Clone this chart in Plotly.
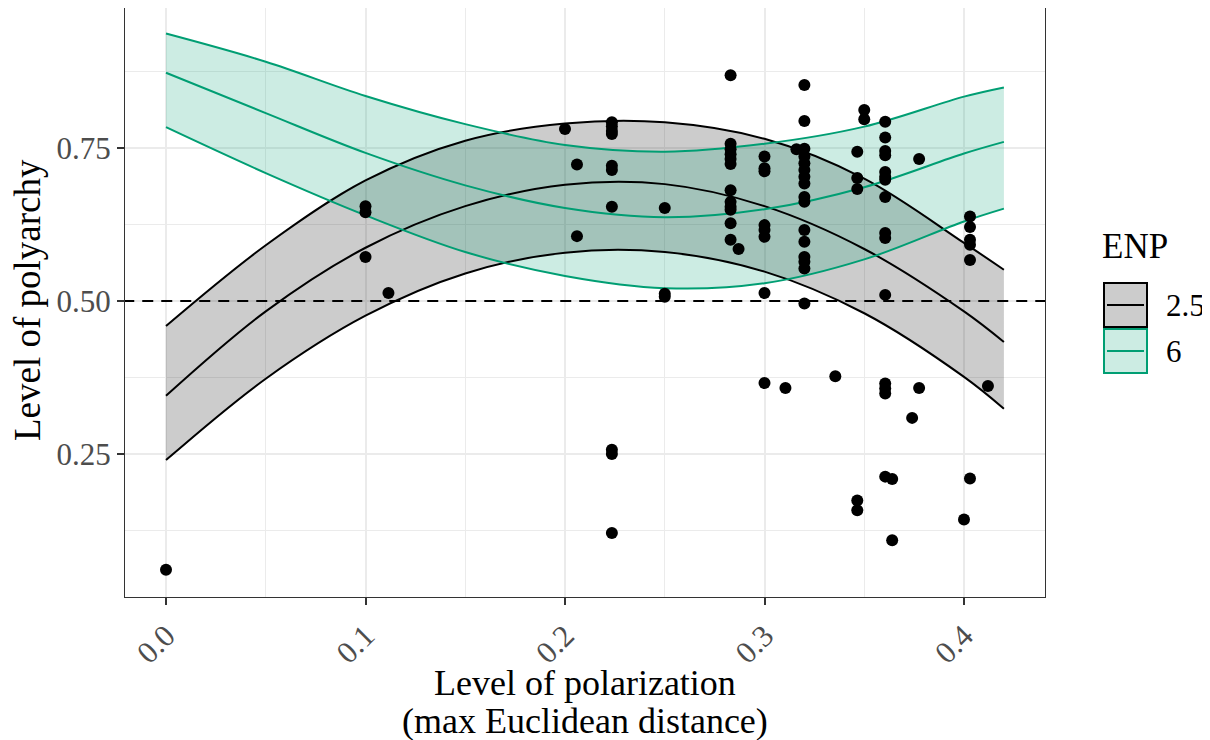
import plotly.graph_objects as go

# Fitted curves
x_curve = [0.0, 0.05, 0.1, 0.15, 0.2, 0.25, 0.3, 0.35, 0.4, 0.42]
enp25_fit = [0.345, 0.483, 0.587, 0.655, 0.690, 0.691, 0.655, 0.585, 0.483, 0.433]
enp25_upper = [0.459, 0.591, 0.697, 0.762, 0.790, 0.792, 0.765, 0.700, 0.595, 0.551]
enp25_lower = [0.240, 0.373, 0.476, 0.545, 0.579, 0.580, 0.548, 0.480, 0.376, 0.324]
enp6_fit = [0.873, 0.807, 0.742, 0.689, 0.652, 0.637, 0.650, 0.686, 0.741, 0.760]
enp6_upper = [0.937, 0.891, 0.835, 0.789, 0.755, 0.744, 0.757, 0.785, 0.834, 0.849]
enp6_lower = [0.784, 0.709, 0.640, 0.580, 0.541, 0.521, 0.529, 0.568, 0.630, 0.651]

# Observations
polarization = [
    0.0,
    0.1, 0.1, 0.1, 0.1115,
    0.2, 0.206, 0.206,
    0.2235, 0.2235, 0.2235, 0.2235, 0.2235, 0.2235, 0.2235, 0.2235, 0.2235, 0.2235,
    0.25, 0.25, 0.25,
    0.283, 0.283, 0.283, 0.283, 0.283, 0.283, 0.283, 0.283, 0.283, 0.283, 0.283, 0.283,
    0.287,
    0.3, 0.3, 0.3, 0.3, 0.3, 0.3, 0.3, 0.3,
    0.3105, 0.316,
    0.32, 0.32, 0.32, 0.32, 0.32, 0.32, 0.32, 0.32, 0.32, 0.32, 0.32, 0.32, 0.32, 0.32, 0.32, 0.32,
    0.3355,
    0.3465, 0.3465, 0.3465, 0.3465, 0.3465,
    0.35, 0.35,
    0.3605, 0.3605, 0.3605, 0.3605, 0.3605, 0.3605, 0.3605, 0.3605, 0.3605, 0.3605, 0.3605,
    0.3605, 0.3605, 0.3605, 0.3605,
    0.364, 0.364,
    0.374,
    0.3775, 0.3775,
    0.4,
    0.403, 0.403, 0.403, 0.403, 0.403, 0.403,
    0.412,
]
polyarchy = [
    0.061,
    0.655, 0.645, 0.572, 0.513,
    0.781, 0.723, 0.606,
    0.792, 0.785, 0.778, 0.773, 0.721, 0.714, 0.654, 0.257, 0.250, 0.121,
    0.652, 0.512, 0.507,
    0.869, 0.757, 0.748, 0.740, 0.732, 0.724, 0.681, 0.662, 0.654, 0.649, 0.627, 0.600,
    0.585,
    0.736, 0.717, 0.712, 0.624, 0.616, 0.605, 0.513, 0.366,
    0.358, 0.748,
    0.853, 0.794, 0.749, 0.736, 0.725, 0.714, 0.703, 0.692, 0.670, 0.662, 0.616, 0.597,
    0.572, 0.564, 0.553, 0.496,
    0.377,
    0.744, 0.701, 0.683, 0.174, 0.158,
    0.812, 0.797,
    0.793, 0.767, 0.745, 0.738, 0.711, 0.703, 0.698, 0.670, 0.611, 0.603, 0.510,
    0.365, 0.357, 0.349, 0.213,
    0.209, 0.109,
    0.309,
    0.732, 0.358,
    0.143,
    0.638, 0.621, 0.600, 0.592, 0.567, 0.210,
    0.361,
]

x_ticks = [0.0, 0.1, 0.2, 0.3, 0.4]
x_ticklabels = ["0.0", "0.1", "0.2", "0.3", "0.4"]
y_ticks = [0.25, 0.50, 0.75]
y_ticklabels = ["0.25", "0.50", "0.75"]
threshold = 0.5
legend_labels = ["2.5", "6"]
legend_title = "ENP"
x_title_lines = ["Level of polarization", "(max Euclidean distance)"]
y_title = "Level of polyarchy"

BLACK = "#000000"
GREEN = "#009E73"
GRAY_FILL = "rgba(0,0,0,0.2)"
GREEN_FILL = "rgba(0,158,115,0.2)"
FONT = "Liberation Serif"

fig = go.Figure()

# ribbons
for lo, hi, fillc in [(enp25_lower, enp25_upper, GRAY_FILL), (enp6_lower, enp6_upper, GREEN_FILL)]:
    fig.add_trace(go.Scatter(x=x_curve, y=lo, mode="lines", line=dict(width=0, shape="spline"),
                             showlegend=False, hoverinfo="skip"))
    fig.add_trace(go.Scatter(x=x_curve, y=hi, mode="lines", line=dict(width=0, shape="spline"),
                             fill="tonexty", fillcolor=fillc, showlegend=False, hoverinfo="skip"))

# lines
for series, col in [((enp25_lower, enp25_fit, enp25_upper), BLACK), ((enp6_lower, enp6_fit, enp6_upper), GREEN)]:
    for s in series:
        fig.add_trace(go.Scatter(x=x_curve, y=s, mode="lines",
                                 line=dict(color=col, width=2, shape="spline"),
                                 showlegend=False, hoverinfo="skip"))

# threshold
fig.add_trace(go.Scatter(x=[-0.05, 0.5], y=[threshold, threshold], mode="lines",
                         line=dict(color=BLACK, width=2, dash="11px,8px"),
                         showlegend=False, hoverinfo="skip"))

# points
fig.add_trace(go.Scatter(x=polarization, y=polyarchy, mode="markers",
                         marker=dict(color=BLACK, size=12), showlegend=False))

# the page body adds an offset of about 8px; layout is given in screen pixels
OFF = 8
W, H = 1210 - OFF, 740 - OFF
L, R, T, B = 125 - OFF, 1045 - OFF, 8 - OFF, 597 - OFF


def pxx(px):
    return (px - OFF - L) / float(R - L)


def pxy(py):
    return (B - (py - OFF)) / float(B - T)


shapes = []
annotations = []
legend_items = [(legend_labels[0], BLACK, "rgb(204,204,204)", 283, 327),
                (legend_labels[1], GREEN, "rgb(204,236,227)", 329, 373)]
for label, col, fillc, top, bot in legend_items:
    shapes.append(dict(type="rect", xref="paper", yref="paper",
                       x0=pxx(1104), x1=pxx(1147), y0=pxy(bot), y1=pxy(top),
                       fillcolor=fillc, line=dict(color=col, width=2)))
    mid = (top + bot) / 2
    shapes.append(dict(type="line", xref="paper", yref="paper",
                       x0=pxx(1107), x1=pxx(1144), y0=pxy(mid), y1=pxy(mid),
                       line=dict(color=col, width=2)))
    annotations.append(dict(text=label, xref="paper", yref="paper", x=pxx(1164), y=pxy(mid),
                            xanchor="left", yanchor="middle", showarrow=False,
                            font=dict(family=FONT, size=31, color="#000000")))
annotations.append(dict(text=legend_title, xref="paper", yref="paper", x=pxx(1100), y=pxy(246),
                        xanchor="left", yanchor="middle", showarrow=False,
                        font=dict(family=FONT, size=35, color="#000000")))
# axis titles
annotations.append(dict(text=x_title_lines[0], xref="paper", yref="paper", x=0.5, y=pxy(683),
                        xanchor="center", yanchor="middle", showarrow=False,
                        font=dict(family=FONT, size=36, color="#000000")))
annotations.append(dict(text=x_title_lines[1], xref="paper", yref="paper", x=0.5, y=pxy(721),
                        xanchor="center", yanchor="middle", showarrow=False,
                        font=dict(family=FONT, size=36, color="#000000")))
annotations.append(dict(text=y_title, xref="paper", yref="paper", x=pxx(27), y=pxy(300),
                        xanchor="center", yanchor="middle", showarrow=False, textangle=-90,
                        font=dict(family=FONT, size=37, color="#000000")))

fig.update_layout(
    width=W, height=H,
    margin=dict(l=L, r=W - R, t=T, b=H - B, pad=0),
    paper_bgcolor="white", plot_bgcolor="white",
    font=dict(family=FONT),
    shapes=shapes, annotations=annotations,
    showlegend=False,
)
fig.update_xaxes(
    range=[-0.02055, 0.4406], tickvals=x_ticks, ticktext=x_ticklabels, tickangle=-45,
    tickfont=dict(family=FONT, size=31, color="#4D4D4D"),
    ticks="outside", ticklen=7, tickwidth=1.5, tickcolor="#333333",
    showgrid=True, gridcolor="#EBEBEB", gridwidth=1.6,
    minor=dict(tickvals=[0.05, 0.15, 0.25, 0.35], showgrid=True, gridcolor="#EBEBEB", gridwidth=0.8),
    showline=True, linecolor="#333333", linewidth=1.2, mirror=True, zeroline=False,
    automargin=False,
)
fig.update_yaxes(
    range=[0.0163, 0.9788], tickvals=y_ticks, ticktext=y_ticklabels,
    tickfont=dict(family=FONT, size=31, color="#4D4D4D"),
    ticks="outside", ticklen=7, tickwidth=1.5, tickcolor="#333333",
    showgrid=True, gridcolor="#EBEBEB", gridwidth=1.6,
    minor=dict(tickvals=[0.125, 0.375, 0.625, 0.875], showgrid=True, gridcolor="#EBEBEB", gridwidth=0.8),
    showline=True, linecolor="#333333", linewidth=1.2, mirror=True, zeroline=False,
    automargin=False,
)

fig.write_html("out.html")
